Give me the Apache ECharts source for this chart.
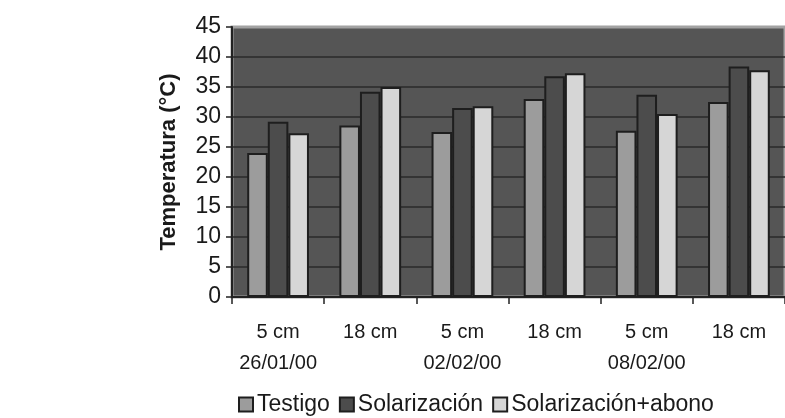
<!DOCTYPE html>
<html>
<head>
<meta charset="utf-8">
<script src="https://cdn.jsdelivr.net/npm/echarts@6/dist/echarts.min.js"></script>
<style>
  html, body { margin: 0; padding: 0; background: #fff; }
  #chart { width: 785px; height: 418px; }
</style>
</head>
<body>
<div id="chart"></div>
<script>
var depths = ['5 cm', '18 cm', '5 cm', '18 cm', '5 cm', '18 cm'];
var dates = ['26/01/00', '', '02/02/00', '', '08/02/00', ''];
var testigo = [24, 28.6, 27.5, 33, 27.7, 32.5];
var solarizacion = [29.2, 34.2, 31.5, 36.8, 33.7, 38.4];
var solarizacionAbono = [27.3, 35, 31.8, 37.3, 30.5, 37.8];
var yTicks = [0, 5, 10, 15, 20, 25, 30, 35, 40, 45];

var myChart = echarts.init(document.getElementById('chart'));
var fontFamily = '"Liberation Sans", Arial, sans-serif';
var barBorder = { borderColor: '#1e1e1e', borderWidth: 2 };

var option = {
    animation: false,
    textStyle: { fontFamily: fontFamily, color: '#1a1a1a' },
    grid: {
        left: 232,
        top: 27,
        right: -2,
        bottom: 121,
        show: true,
        backgroundColor: '#555555',
        borderColor: '#a2a2a2',
        borderWidth: 3
    },
    legend: {
        left: 233,
        top: 388,
        itemWidth: 14,
        itemHeight: 14,
        itemGap: 9,
        icon: 'rect',
        textStyle: { fontSize: 23, color: '#1a1a1a', fontFamily: fontFamily, padding: [0, 0, 0, -1] },
        data: ['Testigo', 'Solarización', 'Solarización+abono']
    },
    xAxis: {
        type: 'category',
        data: depths,
        axisLine: { lineStyle: { color: '#222', width: 2 } },
        axisTick: { show: true, length: 7, lineStyle: { color: '#222', width: 1.5 } },
        axisLabel: {
            interval: 0,
            margin: 20,
            fontSize: 20,
            lineHeight: 31,
            color: '#1a1a1a',
            verticalAlign: 'top',
            formatter: function (value, index) {
                return dates[index] ? value + '\n' + dates[index] : value;
            }
        }
    },
    yAxis: {
        type: 'value',
        min: yTicks[0],
        max: yTicks[yTicks.length - 1],
        interval: 5,
        name: 'Temperatura (°C)',
        nameLocation: 'middle',
        nameGap: 52,
        nameTextStyle: { fontSize: 22, fontWeight: 'bold', color: '#1a1a1a' },
        axisLine: { show: true, lineStyle: { color: '#222', width: 2 } },
        axisTick: { show: true, length: 6, lineStyle: { color: '#222', width: 1.5 } },
        axisLabel: { fontSize: 23, margin: 11, color: '#1a1a1a' },
        splitLine: { show: true, showMaxLine: false, lineStyle: { color: '#2a2a2a', width: 1.5 } }
    },
    series: [
        {
            name: 'Testigo',
            type: 'bar',
            data: testigo,
            barGap: '0%',
            barCategoryGap: '33%',
            itemStyle: Object.assign({ color: '#9c9c9c' }, barBorder)
        },
        {
            name: 'Solarización',
            type: 'bar',
            data: solarizacion,
            barGap: '0%',
            barCategoryGap: '33%',
            itemStyle: Object.assign({ color: '#4c4c4c' }, barBorder)
        },
        {
            name: 'Solarización+abono',
            type: 'bar',
            data: solarizacionAbono,
            barGap: '0%',
            barCategoryGap: '33%',
            itemStyle: Object.assign({ color: '#d6d6d6' }, barBorder)
        }
    ]
};
myChart.setOption(option);
window.addEventListener('resize', function () {
    myChart.resize();
});
</script>
</body>
</html>
